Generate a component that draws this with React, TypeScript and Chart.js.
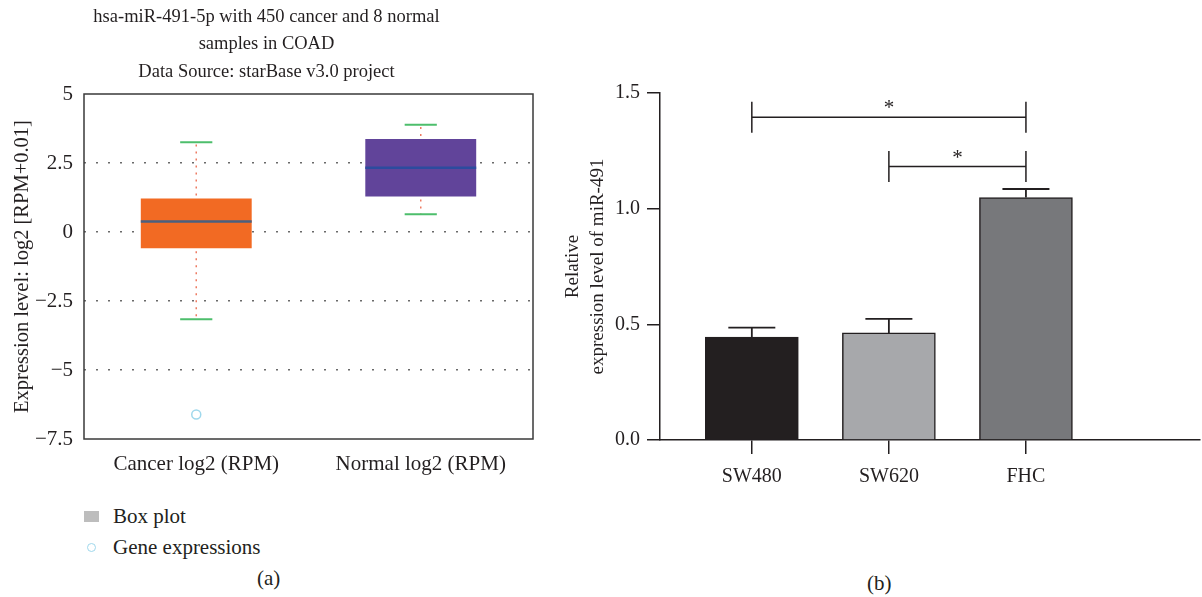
import React, { useEffect, useRef } from 'react';
import { Chart, registerables } from 'chart.js';

Chart.register(...registerables);

const FONT = '"Liberation Serif", "Times New Roman", serif';
const TEXT = '#231F20';

// ---------- Panel (a): box plot ----------
const boxTitle = [
  'hsa-miR-491-5p with 450 cancer and 8 normal',
  'samples in COAD',
  'Data Source: starBase v3.0 project',
];
const boxCategories = ['Cancer log2 (RPM)', 'Normal log2 (RPM)'];
const boxWhiskerLow = [-3.16, 0.64];
const boxQ1 = [-0.59, 1.29];
const boxMedian = [0.38, 2.33];
const boxQ3 = [1.21, 3.37];
const boxWhiskerHigh = [3.25, 3.89];
const boxColors = ['#F26A23', '#61449A'];
const medianColors = ['#4A6080', '#2C4B9E'];
const outlierCategory = ['Cancer log2 (RPM)'];
const outlierValues = [-6.61];
const boxYMin = -7.5;
const boxYMax = 5;
const boxYStep = 2.5;

// ---------- Panel (b): bar chart ----------
const barCategories = ['SW480', 'SW620', 'FHC'];
const barValues = [0.445, 0.463, 1.048];
const barErrors = [0.041, 0.061, 0.037];
const barColors = ['#231F20', '#A7A8AB', '#77787B'];
const barYMin = 0;
const barYMax = 1.5;
const barYStep = 0.5;
const bracketFrom = [0, 1];
const bracketTo = [2, 2];
const bracketValue = [1.395, 1.182];
const bracketLabel = ['*', '*'];

const fmtSigned = (v: number) => (v < 0 ? '\u2212' + String(Math.abs(v)) : String(v));

const boxPlugin = {
  id: 'boxWhiskers',
  afterDatasetsDraw(chart: any) {
    const { ctx, chartArea, scales } = chart;
    const y = scales.y;
    const meta = chart.getDatasetMeta(0);
    ctx.save();
    meta.data.forEach((bar: any, i: number) => {
      const cx = bar.x;
      const w = bar.width;
      const capHalf = w * 0.145;
      const pHigh = y.getPixelForValue(boxWhiskerHigh[i]);
      const pLow = y.getPixelForValue(boxWhiskerLow[i]);
      const pQ1 = y.getPixelForValue(boxQ1[i]);
      const pQ3 = y.getPixelForValue(boxQ3[i]);
      const pMed = y.getPixelForValue(boxMedian[i]);
      // dotted whiskers
      ctx.strokeStyle = '#EE7B62';
      ctx.lineWidth = 1.5;
      ctx.setLineDash([2, 5]);
      ctx.beginPath();
      ctx.moveTo(cx, pQ3 - 3);
      ctx.lineTo(cx, pHigh);
      ctx.moveTo(cx, pQ1 + 3);
      ctx.lineTo(cx, pLow);
      ctx.stroke();
      ctx.setLineDash([]);
      // caps
      ctx.strokeStyle = '#4DBE6C';
      ctx.lineWidth = 2;
      ctx.beginPath();
      ctx.moveTo(cx - capHalf, pHigh);
      ctx.lineTo(cx + capHalf, pHigh);
      ctx.moveTo(cx - capHalf, pLow);
      ctx.lineTo(cx + capHalf, pLow);
      ctx.stroke();
      // median
      ctx.strokeStyle = medianColors[i];
      ctx.lineWidth = 2.5;
      ctx.beginPath();
      ctx.moveTo(cx - w / 2, pMed);
      ctx.lineTo(cx + w / 2, pMed);
      ctx.stroke();
    });
    // frame
    ctx.strokeStyle = '#3A3A3A';
    ctx.lineWidth = 1.5;
    ctx.strokeRect(chartArea.left, chartArea.top, chartArea.right - chartArea.left, chartArea.bottom - chartArea.top);
    ctx.restore();
  },
};

const barPlugin = {
  id: 'errorsAndBrackets',
  afterDatasetsDraw(chart: any) {
    const { ctx, scales } = chart;
    const x = scales.x;
    const y = scales.y;
    ctx.save();
    ctx.strokeStyle = TEXT;
    // error bars
    barValues.forEach((v, i) => {
      const cx = x.getPixelForValue(i + 1);
      const top = y.getPixelForValue(v + barErrors[i]);
      const base = y.getPixelForValue(v);
      ctx.lineWidth = 1.8;
      ctx.beginPath();
      ctx.moveTo(cx, base);
      ctx.lineTo(cx, top);
      ctx.moveTo(cx - 23.5, top);
      ctx.lineTo(cx + 23.5, top);
      ctx.stroke();
    });
    // significance brackets
    bracketValue.forEach((bv, i) => {
      const x1 = x.getPixelForValue(bracketFrom[i] + 1);
      const x2 = x.getPixelForValue(bracketTo[i] + 1);
      const py = y.getPixelForValue(bv);
      ctx.lineWidth = 1.5;
      ctx.beginPath();
      ctx.moveTo(x1, py);
      ctx.lineTo(x2, py);
      ctx.moveTo(x1, py - 15.5);
      ctx.lineTo(x1, py + 15.5);
      ctx.moveTo(x2, py - 15.5);
      ctx.lineTo(x2, py + 15.5);
      ctx.stroke();
      ctx.fillStyle = TEXT;
      ctx.font = '21px ' + FONT;
      ctx.textAlign = 'center';
      ctx.textBaseline = 'alphabetic';
      ctx.fillText(bracketLabel[i], (x1 + x2) / 2, py - 3);
    });
    ctx.restore();
  },
};

export default function App() {
  const refA = useRef<HTMLCanvasElement>(null);
  const refB = useRef<HTMLCanvasElement>(null);

  useEffect(() => {
    const tickFontA = { family: FONT, size: 21 };
    const tickFontB = { family: FONT, size: 20 };
    const chartA = new Chart(refA.current as HTMLCanvasElement, {
      type: 'bar',
      data: {
        labels: boxCategories,
        datasets: [
          {
            type: 'bar',
            label: 'Box plot',
            data: boxCategories.map((_, i) => [boxQ1[i], boxQ3[i]]) as any,
            backgroundColor: boxColors,
            borderWidth: 0,
            categoryPercentage: 1,
            barPercentage: 0.494,
            grouped: false,
          } as any,
          {
            type: 'line',
            label: 'Gene expressions',
            data: outlierCategory.map((c, i) => ({ x: c, y: outlierValues[i] })) as any,
            showLine: false,
            pointStyle: 'circle',
            pointRadius: 4.5,
            pointBorderColor: '#9FD8EC',
            pointBackgroundColor: 'rgba(255,255,255,0)',
            pointBorderWidth: 1.5,
          } as any,
        ],
      },
      options: {
        animation: false,
        responsive: false,
        layout: { padding: { top: 0, left: 0, right: 12, bottom: 0 } },
        plugins: {
          legend: { display: false },
          tooltip: { enabled: false },
          title: {
            display: true,
            text: boxTitle,
            color: TEXT,
            font: { family: FONT, size: 18.5, weight: 'normal', lineHeight: 27.5 / 18.5 },
            padding: { top: 3, bottom: 8.5 },
          },
        },
        scales: {
          x: {
            grid: { display: false, drawTicks: false },
            border: { display: false },
            ticks: { color: TEXT, font: tickFontA, padding: 13 },
            afterFit: (s: any) => { s.height = 51; },
          },
          y: {
            min: boxYMin,
            max: boxYMax,
            ticks: { stepSize: boxYStep, color: TEXT, font: tickFontA, padding: 11, callback: (v: any) => fmtSigned(Number(v)) },
            grid: {
              drawTicks: false,
              lineWidth: 1.5,
              color: (c: any) => (c.tick && (c.tick.value === boxYMin || c.tick.value === boxYMax) ? 'rgba(0,0,0,0)' : '#6A6A6A'),
            },
            border: { display: false, dash: [2, 10] },
            title: {
              display: true,
              text: 'Expression level: log2 [RPM+0.01]',
              color: TEXT,
              font: { family: FONT, size: 20.5 },
              padding: { top: 10.5, bottom: 0 },
            },
            afterFit: (s: any) => { s.width = 84; },
          },
        },
      } as any,
      plugins: [boxPlugin],
    });

    const chartB = new Chart(refB.current as HTMLCanvasElement, {
      type: 'bar',
      data: {
        datasets: [
          {
            label: 'miR-491',
            data: barCategories.map((_, i) => ({ x: i + 1, y: barValues[i] })) as any,
            backgroundColor: barColors,
            borderColor: TEXT,
            borderWidth: 1.5,
            barThickness: 93,
          } as any,
        ],
      },
      options: {
        animation: false,
        responsive: false,
        layout: { padding: { top: 93, left: 0, right: 2, bottom: 0 } },
        plugins: { legend: { display: false }, tooltip: { enabled: false } },
        scales: {
          x: {
            type: 'linear',
            offset: false,
            min: 0.33,
            max: 4.27,
            afterBuildTicks: (s: any) => { s.ticks = barCategories.map((_, i) => ({ value: i + 1 })); },
            ticks: { color: TEXT, font: tickFontB, padding: 11, callback: (v: any) => barCategories[Number(v) - 1] },
            grid: { offset: false, drawOnChartArea: false, tickLength: 14, color: TEXT, lineWidth: 1.5 },
            border: { color: TEXT, width: 1.5 },
            afterFit: (s: any) => { s.height = 60; },
          },
          y: {
            min: barYMin,
            max: barYMax,
            ticks: { stepSize: barYStep, color: TEXT, font: tickFontB, padding: 7, callback: (v: any) => Number(v).toFixed(1) },
            grid: { drawOnChartArea: false, tickLength: 13, color: TEXT, lineWidth: 1.5 },
            border: { color: TEXT, width: 1.5 },
            title: {
              display: true,
              text: ['Relative', 'expression level of miR-491'],
              color: TEXT,
              font: { family: FONT, size: 19, lineHeight: 1.3 },
              padding: { top: 16, bottom: 0 },
            },
            afterFit: (s: any) => { s.width = 115; },
          },
        },
      } as any,
      plugins: [barPlugin],
    });

    return () => {
      chartA.destroy();
      chartB.destroy();
    };
  }, []);

  const txt: React.CSSProperties = { position: 'absolute', fontFamily: FONT, fontSize: 21, color: TEXT, lineHeight: '24px', whiteSpace: 'nowrap' };

  return (
    <div style={{ position: 'absolute', left: 0, top: 0, width: 1202, height: 597, background: '#fff', overflow: 'hidden' }}>
      <canvas ref={refA} width={545} height={490} style={{ position: 'absolute', left: 0, top: 0, width: 545, height: 490 }} />
      <canvas ref={refB} width={657} height={500} style={{ position: 'absolute', left: 545, top: 0, width: 657, height: 500 }} />
      <div style={{ position: 'absolute', left: 84, top: 511, width: 15, height: 11, background: '#BDBDBD' }} />
      <div style={{ ...txt, left: 113, top: 504 }}>Box plot</div>
      <div style={{ position: 'absolute', left: 86.5, top: 542.5, width: 7, height: 7, borderRadius: '50%', border: '1.5px solid #9FD8EC' }} />
      <div style={{ ...txt, left: 113, top: 535 }}>Gene expressions</div>
      <div style={{ ...txt, left: 257, top: 566 }}>(a)</div>
      <div style={{ ...txt, left: 867, top: 571 }}>(b)</div>
    </div>
  );
}
